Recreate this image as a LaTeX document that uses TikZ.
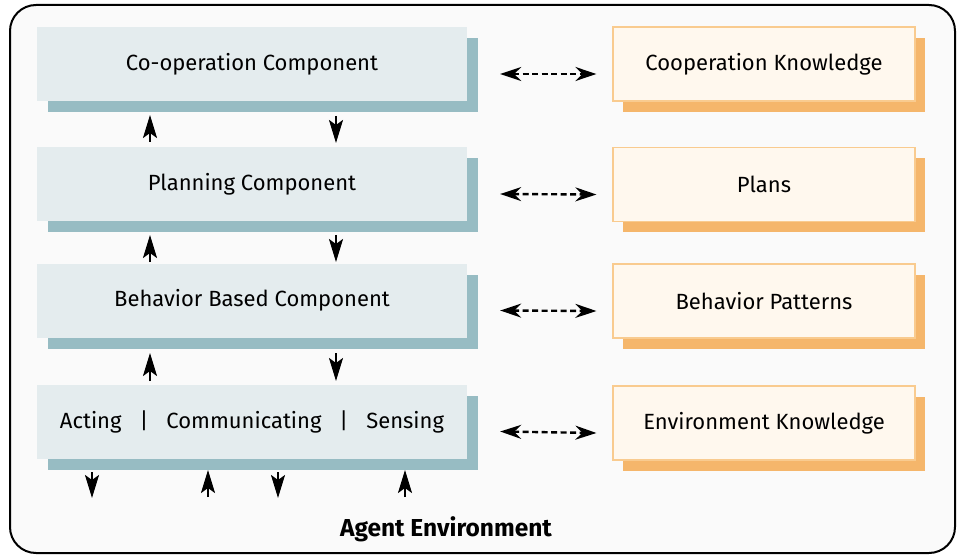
\documentclass[tikz,border=0pt]{standalone}
\usepackage{fontspec}
\setmainfont{Fira Sans}
\usetikzlibrary{arrows.meta,shadows}
\definecolor{lbfill}{HTML}{E4ECEE}
\definecolor{lbshadow}{HTML}{97BCC3}
\definecolor{rbfill}{HTML}{FFF8EE}
\definecolor{rbdraw}{HTML}{F9CB8F}
\definecolor{rbshadow}{HTML}{F5B66B}
\definecolor{framefill}{HTML}{FAFAFA}
\tikzset{
  vtip/.tip={Stealth[length=23pt,width=14pt,inset=5pt]},
  dtip/.tip={Stealth[length=21pt,width=14pt,inset=7pt]},
}
\begin{document}
\begin{tikzpicture}[x=1pt,y=1pt,
  comp/.style={fill=lbfill, minimum width=430pt, minimum height=74pt, inner sep=0pt,
    font=\fontsize{22}{26}\selectfont,
    drop shadow={shadow xshift=11pt,shadow yshift=-11pt,fill=lbshadow,opacity=1}},
  know/.style={fill=rbfill, draw=rbdraw, line width=1.2pt, minimum width=302pt, minimum height=74pt, inner sep=0pt,
    font=\fontsize{22}{26}\selectfont,
    drop shadow={shadow xshift=10pt,shadow yshift=-11pt,fill=rbshadow,opacity=1}},
  varr/.style={line width=2pt, arrows={-vtip}},
  darr/.style={line width=2.4pt, dash pattern=on 6pt off 3.5pt, arrows={dtip-dtip}},
]
\useasboundingbox (0,0) rectangle (961,-556);
\draw[line width=2pt, fill=framefill, rounded corners=26pt] (10,-5) rectangle (955,-553);

% left components
\node[comp] (c1) at (252,-64) {Co-operation Component};
\node[comp] (c2) at (252,-184) {Planning Component};
\node[comp] (c3) at (252,-300.5) {Behavior Based Component};
\node[comp] (c4) at (252,-421.5) {Acting\hspace{18pt}|\hspace{18pt}Communicating\hspace{18pt}|\hspace{18pt}Sensing};

% right knowledge
\node[know] (k1) at (764,-64) {Cooperation Knowledge};
\node[know] (k2) at (764,-184.5) {Plans};
\node[know] (k3) at (764,-301) {Behavior Patterns};
\node[know] (k4) at (764,-423) {Environment Knowledge};

% dashed links
\foreach \i in {1,2,3,4}{
  \draw[darr] ([xshift=33pt,yshift=-10pt]c\i.east) -- ([xshift=-16pt,yshift=-10pt]k\i.west);
}

% vertical arrows between components
\coordinate (u1s) at (150,-142); \coordinate (u1e) at (150,-115);
\coordinate (d1s) at (336,-116); \coordinate (d1e) at (336,-143);
\coordinate (u2s) at (150,-262); \coordinate (u2e) at (150,-235);
\coordinate (d2s) at (336,-235); \coordinate (d2e) at (336,-262);
\coordinate (u3s) at (150,-381); \coordinate (u3e) at (150,-353);
\coordinate (d3s) at (336,-353); \coordinate (d3e) at (336,-381);
\foreach \i in {1,2,3}{
  \draw[varr] (u\i s) -- (u\i e);
  \draw[varr] (d\i s) -- (d\i e);
}

% arrows to/from environment
\coordinate (a1s) at (92,-472);  \coordinate (a1e) at (92,-498);
\coordinate (a2s) at (208,-497); \coordinate (a2e) at (208,-470);
\coordinate (a3s) at (278,-472); \coordinate (a3e) at (278,-498);
\coordinate (a4s) at (405,-497); \coordinate (a4e) at (405,-470);
\foreach \i in {1,2,3,4}{
  \draw[varr] (a\i s) -- (a\i e);
}

\node[font=\fontsize{24.5}{28}\selectfont\bfseries] (env) at (446,-529) {Agent Environment};
\end{tikzpicture}
\end{document}
